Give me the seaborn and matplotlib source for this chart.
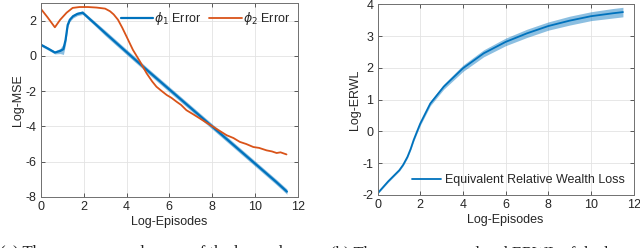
import matplotlib
matplotlib.use("Agg")
import matplotlib.pyplot as plt
import numpy as np
import pandas as pd
import seaborn as sns

# ---- data ----
ep_phi1 = [0.0, 0.35, 0.65, 0.9, 1.05, 1.15, 1.25, 1.35, 1.5, 1.7, 1.95, 2.5, 3.0, 4.0,
           5.0, 6.0, 7.0, 8.0, 9.0, 10.0, 11.0, 11.5]
mse_phi1 = [0.63, 0.4, 0.19, 0.28, 0.38, 0.9, 1.75, 2.05, 2.25, 2.38, 2.45, 1.85, 1.3, 0.22,
            -0.85, -1.9, -2.95, -4.0, -5.05, -6.1, -7.15, -7.7]
band_phi1 = [0.08, 0.08, 0.08, 0.15, 0.3, 0.25, 0.12, 0.1, 0.1, 0.1, 0.1, 0.12, 0.15, 0.15,
             0.15, 0.15, 0.15, 0.15, 0.15, 0.15, 0.15, 0.15]

ep_phi2 = [0.0, 0.3, 0.65, 0.9, 1.2, 1.48, 1.8, 2.2, 2.6, 3.0, 3.23, 3.4, 3.6, 3.8, 4.0,
           4.3, 4.63, 4.94, 5.2, 5.4, 5.65, 5.88, 6.1, 6.34, 6.55, 6.8, 7.1, 7.43, 7.75,
           8.06, 8.35, 8.68, 9.0, 9.3, 9.6, 9.93, 10.2, 10.55, 10.8, 11.02, 11.2, 11.48]
mse_phi2 = [2.66, 2.2, 1.62, 2.05, 2.45, 2.72, 2.77, 2.77, 2.74, 2.68, 2.53, 2.35, 2.05, 1.6, 1.1,
            0.34, -0.32, -0.99, -1.45, -1.75, -2.0, -2.22, -2.38, -2.6, -2.78, -3.08, -3.3, -3.55, -3.8,
            -4.03, -4.25, -4.5, -4.66, -4.88, -5.0, -5.17, -5.22, -5.36, -5.42, -5.51, -5.47, -5.59]

ep_erwl = [0.0, 0.5, 1.02, 1.2, 1.4, 1.55, 1.69, 1.85, 2.0, 2.47, 3.1, 4.0, 4.97, 6.0, 7.0, 8.0,
           9.0, 10.0, 11.0, 11.5]
erwl = [-1.95, -1.57, -1.22, -1.05, -0.8, -0.55, -0.27, 0.0, 0.25, 0.88, 1.41, 1.99, 2.46, 2.82,
        3.09, 3.32, 3.49, 3.63, 3.72, 3.76]
band_erwl = [0.02, 0.03, 0.03, 0.03, 0.04, 0.04, 0.05, 0.05, 0.06, 0.07, 0.08, 0.1, 0.11, 0.12,
             0.13, 0.13, 0.14, 0.14, 0.15, 0.15]

xticks = [0, 2, 4, 6, 8, 10, 12]
yticks_left = [-8, -6, -4, -2, 0, 2]
yticks_right = [-2, -1, 0, 1, 2, 3, 4]

blue = "#0072BD"
orange = "#D95319"

sns.set_theme(style="whitegrid")
plt.rcParams["font.family"] = ["Liberation Sans", "DejaVu Sans"]
plt.rcParams["mathtext.fontset"] = "dejavusans"
plt.rcParams["axes.unicode_minus"] = False

fig = plt.figure(figsize=(6.4, 2.48), dpi=100)
ax1 = fig.add_axes([0.064, 0.206, 0.401, 0.782])
ax2 = fig.add_axes([0.590, 0.214, 0.400, 0.768])

df1 = pd.DataFrame({"x": ep_phi1, "y": mse_phi1})
df2 = pd.DataFrame({"x": ep_phi2, "y": mse_phi2})
df3 = pd.DataFrame({"x": ep_erwl, "y": erwl})

lo = np.array(mse_phi1) - np.array(band_phi1)
hi = np.array(mse_phi1) + np.array(band_phi1)
ax1.fill_between(ep_phi1, lo, hi, color=blue, alpha=0.45, lw=0)
sns.lineplot(data=df1, x="x", y="y", ax=ax1, color=blue, lw=1.6, label=r"$\phi_1$ Error")
sns.lineplot(data=df2, x="x", y="y", ax=ax1, color=orange, lw=1.3, label=r"$\phi_2$ Error")

lo = np.array(erwl) - np.array(band_erwl)
hi = np.array(erwl) + np.array(band_erwl)
ax2.fill_between(ep_erwl, lo, hi, color=blue, alpha=0.45, lw=0)
sns.lineplot(data=df3, x="x", y="y", ax=ax2, color=blue, lw=1.3,
             label="Equivalent Relative Wealth Loss")

for ax, yt, ylim, ylab in [(ax1, yticks_left, (-8, 3), "Log-MSE"),
                           (ax2, yticks_right, (-2, 4), "Log-ERWL")]:
    ax.set_xlim(0, 12)
    ax.set_ylim(*ylim)
    ax.set_xticks(xticks)
    ax.set_yticks(yt)
    ax.set_xlabel("Log-Episodes", fontsize=9, labelpad=2)
    ax.set_ylabel(ylab, fontsize=9, labelpad=1)
    ax.tick_params(direction="in", length=3, width=0.6, color="#404040",
                   labelsize=9, labelcolor="#262626", pad=3,
                   top=True, right=True, bottom=True, left=True)
    ax.grid(True, color="#e3e3e3", lw=0.6)
    for s in ax.spines.values():
        s.set_color("#707070")
        s.set_linewidth(0.7)
    ax.set_facecolor("white")

ax1.legend(loc="upper right", ncol=2, frameon=False, fontsize=9, handlelength=2.6,
           handletextpad=0.1, columnspacing=0.6, borderaxespad=0.2,
           bbox_to_anchor=(1.0, 1.0))
ax2.legend(loc="lower right", frameon=False, fontsize=9, handlelength=2.3,
           handletextpad=0.3, borderaxespad=0.3)

# captions sit at the bottom edge and are cut off, as in the reference
fig.text(0.0, 0.012, "(a) The mean squared errors of the learned",
         family=["Liberation Serif", "DejaVu Serif"], fontsize=12, va="top", color="#222222")
fig.text(0.515, 0.012, "(b) The mean accumulated ERWL of the l",
         family=["Liberation Serif", "DejaVu Serif"], fontsize=12, va="top", color="#222222")

fig.savefig("out.png", dpi=100)
